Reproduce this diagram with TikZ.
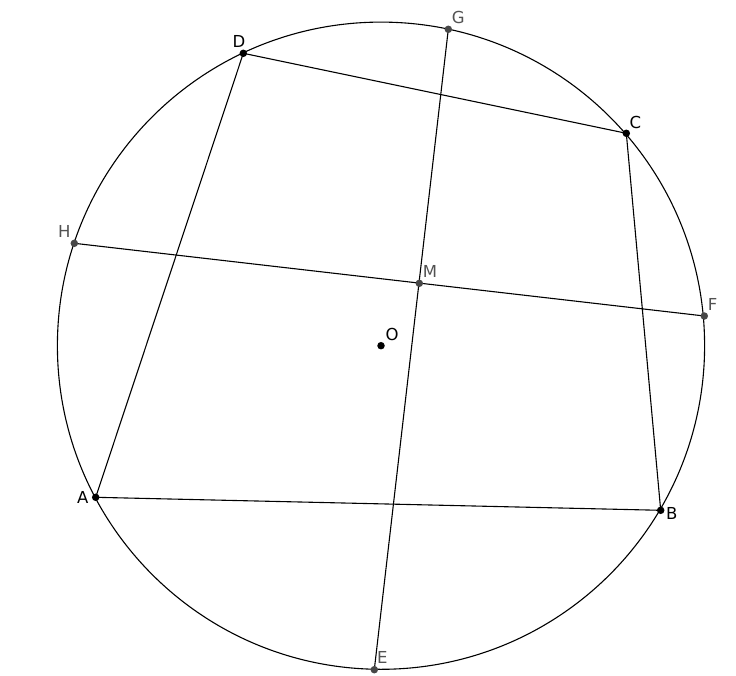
\documentclass[tikz,border=0pt]{standalone}
\usepackage{fontspec}
\setmainfont{DejaVu Sans}
\usetikzlibrary{backgrounds}
\begin{document}
\begin{tikzpicture}[x=1pt,y=-1pt,
  seg/.style={line width=1.1pt},
  pt/.style={circle, inner sep=0pt, minimum size=7.5pt, fill},
  ptg/.style={pt, fill=black!72},
  lbl/.style={inner sep=0pt, font=\fontsize{16.5}{18}\selectfont},
  lblg/.style={lbl, text=black!68}]
\useasboundingbox (0,0) rectangle (736,676);
% points on the circle
\node[pt] (O) at (381,345.7){};
\node[pt] (A) at (95.7,497.3){};
\node[pt] (B) at (660.7,510.3){};
\node[pt] (C) at (626.3,133.3){};
\node[pt] (D) at (243.3,53.3){};
\node[ptg] (G) at (448.3,29.3){};
\node[ptg] (E) at (374.3,669.7){};
\node[ptg] (H) at (74.3,243.3){};
\node[ptg] (F) at (704.3,316){};
\node[ptg] (M) at (419.3,283.3){};
% labels
\node[lbl] (lA) at (82.7,497.3){A};
\node[lbl] (lB) at (671.7,513.3){B};
\node[lbl] (lC) at (635.3,122.7){C};
\node[lbl] (lD) at (239,41.5){D};
\node[lbl] (lO) at (392,334.3){O};
\node[lblg] (lG) at (458.3,17.3){G};
\node[lblg] (lE) at (382.3,657.3){E};
\node[lblg] (lH) at (64.3,231.7){H};
\node[lblg] (lF) at (712.7,304){F};
\node[lblg] (lM) at (430,271.7){M};
\begin{pgfonlayer}{background}
\draw[seg] (O.center) circle (323.6pt);
\draw[seg] (A.center) -- (B.center) -- (C.center) -- (D.center) -- cycle;
\draw[seg] (G.center) -- (E.center);
\draw[seg] (H.center) -- (F.center);
\end{pgfonlayer}
\end{tikzpicture}
\end{document}
